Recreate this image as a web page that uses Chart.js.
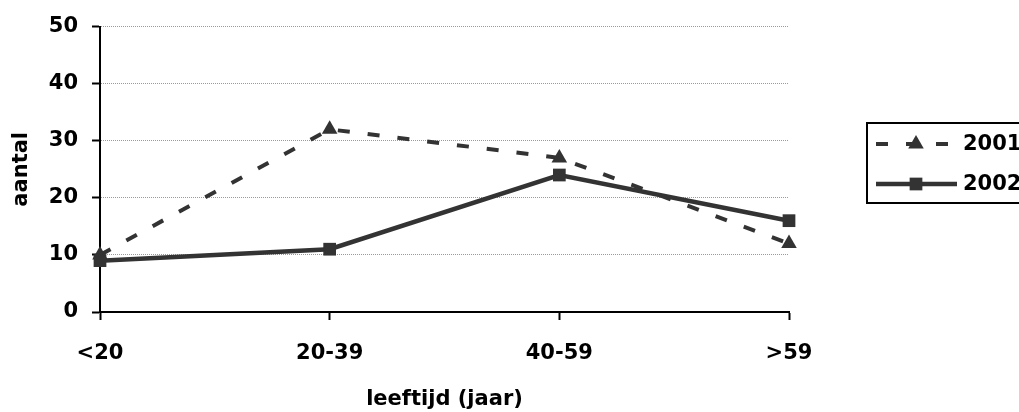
<!DOCTYPE html>
<html>
<head>
<meta charset="utf-8">
<script src="https://cdn.jsdelivr.net/npm/chart.js@4/dist/chart.umd.min.js"></script>
<style>
    html, body { margin: 0; padding: 0; background: #fff; overflow: hidden; }
</style>
</head>
<body>
<canvas id="ageChart" width="1019" height="412"></canvas>
<script>
const ageGroups = ['<20', '20-39', '40-59', '>59'];
const count2001 = [10, 32, 27, 12];
const count2002 = [9, 11, 24, 16];
const yMin = 0;
const yMax = 50;
const yStep = 10;

const ink = '#333333';
const labelFont = { family: '"DejaVu Sans", sans-serif', size: 21, weight: 'bold' };

// boxed legend on the right, partly running off the canvas
const boxLegend = {
    id: 'boxLegend',
    afterDraw(chart) {
        const ctx = chart.ctx;
        ctx.save();
        ctx.strokeStyle = '#000';
        ctx.lineWidth = 2;
        ctx.strokeRect(867, 123, 200, 80);
        chart.data.datasets.forEach((ds, i) => {
            const y = 144 + i * 40;
            ctx.strokeStyle = ds.borderColor;
            ctx.lineWidth = ds.borderWidth;
            ctx.setLineDash(ds.borderDash || []);
            ctx.beginPath();
            ctx.moveTo(876, y);
            ctx.lineTo(957, y);
            ctx.stroke();
            ctx.setLineDash([]);
            ctx.fillStyle = ds.pointBackgroundColor;
            Chart.helpers.drawPoint(ctx, {
                pointStyle: ds.pointStyle,
                radius: ds.pointRadius,
                borderWidth: 0
            }, 916, y);
            ctx.fillStyle = '#000';
            ctx.font = 'bold 21px "DejaVu Sans", sans-serif';
            ctx.textBaseline = 'middle';
            ctx.textAlign = 'left';
            ctx.fillText(ds.label, 963, y + 1);
        });
        ctx.restore();
    }
};

new Chart(document.getElementById('ageChart'), {
    type: 'line',
    data: {
        labels: ageGroups,
        datasets: [
            {
                label: '2001',
                data: count2001,
                borderColor: ink,
                borderWidth: 4,
                borderDash: [12, 18],
                pointStyle: 'triangle',
                pointRadius: 9,
                pointBorderWidth: 0,
                pointBackgroundColor: ink,
                tension: 0,
                clip: false,
                order: 1
            },
            {
                label: '2002',
                data: count2002,
                borderColor: ink,
                borderWidth: 4.5,
                pointStyle: 'rect',
                pointRadius: 9,
                pointBorderWidth: 0,
                pointBackgroundColor: ink,
                tension: 0,
                clip: false,
                order: 0
            }
        ]
    },
    options: {
        responsive: false,
        animation: false,
        layout: {
            padding: { top: 24, right: 230, bottom: 0, left: 0 }
        },
        plugins: {
            legend: { display: false },
            tooltip: { enabled: false }
        },
        scales: {
            x: {
                offset: false,
                ticks: {
                    color: '#000',
                    font: labelFont,
                    padding: 21,
                    maxRotation: 0,
                    autoSkip: false
                },
                grid: {
                    drawOnChartArea: false,
                    tickLength: 8,
                    tickColor: '#000',
                    tickWidth: 2
                },
                border: { color: '#000', width: 2 },
                title: {
                    display: true,
                    text: 'leeftijd (jaar)',
                    color: '#000',
                    font: labelFont,
                    padding: { top: 0, bottom: 0 }
                },
                afterFit(scale) { scale.height = 100; }
            },
            y: {
                min: yMin,
                max: yMax,
                ticks: {
                    stepSize: yStep,
                    color: '#000',
                    font: labelFont,
                    padding: 14
                },
                grid: {
                    color: '#9a9a9a',
                    lineWidth: 1,
                    tickLength: 8,
                    tickColor: '#000',
                    tickWidth: 2,
                    tickBorderDash: []
                },
                border: { color: '#000', width: 2, dash: [1, 1] },
                title: {
                    display: true,
                    text: 'aantal',
                    color: '#000',
                    font: labelFont,
                    padding: { top: 9, bottom: 0 }
                },
                afterFit(scale) { scale.width = 100; }
            }
        }
    },
    plugins: [boxLegend]
});
</script>
</body>
</html>
